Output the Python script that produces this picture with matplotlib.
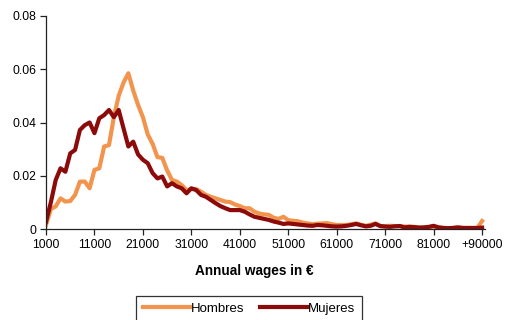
import numpy as np
import matplotlib.pyplot as plt

plt.rcParams['font.family'] = ['Liberation Sans', 'DejaVu Sans']

# wage bins: 1000, 2000, ..., 90000 and the open bin "+90000"
categories = [str(1000 * k) for k in range(1, 91)] + ['+90000']

hombres = [
    0.0015, 0.0075, 0.0085, 0.0115, 0.0103, 0.0105, 0.0128, 0.0178, 0.0178, 0.0153,
    0.0222, 0.0228, 0.0310, 0.0315, 0.0420, 0.0500, 0.0550, 0.0585, 0.0520, 0.0466,
    0.0420, 0.0355, 0.0320, 0.0270, 0.0267, 0.0220, 0.0184, 0.0178, 0.0165, 0.0146,
    0.0150, 0.0150, 0.0140, 0.0128, 0.0121, 0.0115, 0.0109, 0.0103, 0.0101, 0.0092,
    0.0086, 0.0078, 0.0078, 0.0065, 0.0058, 0.0055, 0.0053, 0.0042, 0.0038, 0.0046,
    0.0033, 0.0031, 0.0029, 0.0024, 0.0021, 0.0018, 0.0020, 0.0021, 0.0022, 0.0018,
    0.0015, 0.0015, 0.0015, 0.0018, 0.0021, 0.0016, 0.0012, 0.0016, 0.0021, 0.0011,
    0.0011, 0.0012, 0.0011, 0.0011, 0.0009, 0.0009, 0.0008, 0.0006, 0.0005, 0.0007,
    0.0009, 0.0006, 0.0004, 0.0003, 0.0004, 0.0005, 0.0004, 0.0003, 0.0003, 0.0003,
    0.0030,
]

mujeres = [
    0.0027, 0.0100, 0.0184, 0.0228, 0.0215, 0.0284, 0.0297, 0.0372, 0.0390, 0.0400,
    0.0360, 0.0416, 0.0428, 0.0447, 0.0420, 0.0447, 0.0378, 0.0310, 0.0328, 0.0280,
    0.0260, 0.0247, 0.0210, 0.0190, 0.0197, 0.0160, 0.0172, 0.0160, 0.0153, 0.0134,
    0.0153, 0.0146, 0.0128, 0.0121, 0.0109, 0.0097, 0.0086, 0.0078, 0.0071, 0.0071,
    0.0071, 0.0065, 0.0055, 0.0046, 0.0042, 0.0038, 0.0034, 0.0028, 0.0024, 0.0019,
    0.0021, 0.0019, 0.0017, 0.0015, 0.0013, 0.0012, 0.0015, 0.0014, 0.0012, 0.0010,
    0.0009, 0.0010, 0.0012, 0.0015, 0.0019, 0.0014, 0.0010, 0.0012, 0.0019, 0.0011,
    0.0009, 0.0008, 0.0010, 0.0011, 0.0006, 0.0008, 0.0007, 0.0005, 0.0006, 0.0008,
    0.0012, 0.0006, 0.0004, 0.0003, 0.0004, 0.0006, 0.0004, 0.0004, 0.0004, 0.0004,
    0.0005,
]

y_ticks = [0, 0.02, 0.04, 0.06, 0.08]
y_labels = ['0', '0.02', '0.04', '0.06', '0.08']

x = np.arange(len(categories))

fig = plt.figure(figsize=(5.07, 3.20), dpi=100)
ax = fig.add_axes([46 / 507, 1 - 229 / 320, (485 - 46) / 507, (229 - 16) / 320])

ax.plot(x, hombres, color='#F2944D', lw=3, label='Hombres', solid_joinstyle='round')
ax.plot(x, mujeres, color='#8C0A0A', lw=3, label='Mujeres', solid_joinstyle='round')

ax.set_xlim(0, 90.6)
ax.set_ylim(0, 0.08)
ax.set_yticks(y_ticks)
ax.set_yticklabels(y_labels)
ax.set_xticks(x[::10])
ax.set_xticklabels(categories[::10])

for s in ['top', 'right']:
    ax.spines[s].set_visible(False)
for s in ['left', 'bottom']:
    ax.spines[s].set_color('#222222')
    ax.spines[s].set_linewidth(0.9)
ax.tick_params(direction='out', length=4, width=0.9, labelsize=8.7, colors='#222222',
               labelcolor='black', pad=3)

fig.text(254 / 507, 1 - 271 / 320, 'Annual wages in €', ha='center', va='center',
         fontsize=9.8, fontweight='bold')

leg = fig.legend(loc='upper center', bbox_to_anchor=(249 / 507, 1 - 296 / 320), ncol=2,
                 fontsize=9.5, frameon=True, fancybox=False, edgecolor='black',
                 handlelength=3.6, handletextpad=0.05, columnspacing=1.2,
                 borderpad=0.5, borderaxespad=0)
leg.get_frame().set_linewidth(0.9)

fig.savefig('out.png', dpi=100)
